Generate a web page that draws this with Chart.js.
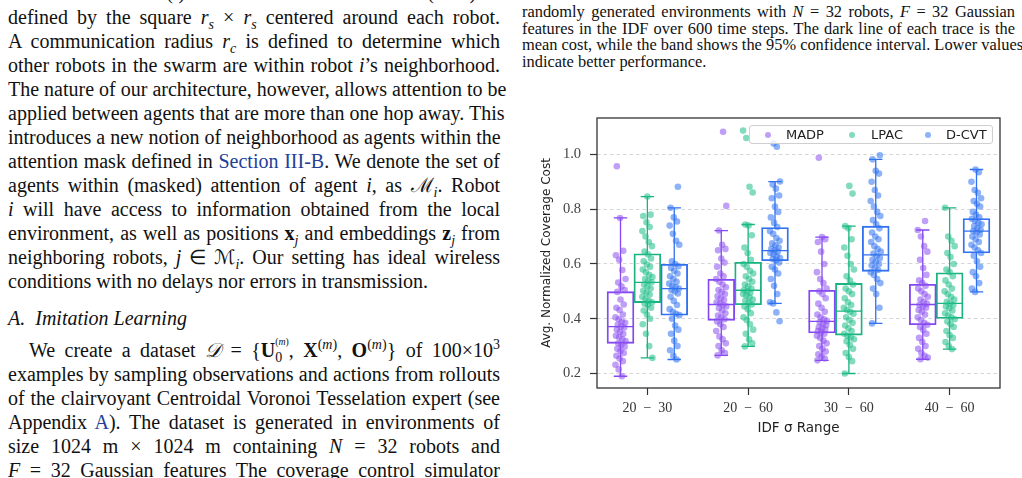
<!DOCTYPE html>
<html>
<head>
<meta charset="utf-8">
<script src="https://cdn.jsdelivr.net/npm/chart.js@4.4.1/dist/chart.umd.min.js"></script>
<style>
  html, body { margin: 0; padding: 0; background: #fff; }
  body { width: 1022px; height: 478px; position: relative; overflow: hidden; font-family: "Liberation Serif", serif; color: #111; }
  .ln { position: absolute; white-space: nowrap; text-align: justify; text-align-last: justify; }
  .left { left: 8px; width: 492px; font-size: 20px; line-height: 24px; height: 24px; }
  .cap { left: 522px; width: 493px; font-size: 16.4px; line-height: 17px; height: 17px; }
  .last { text-align-last: left; }
  .ln i, .mi { font-style: italic; }
  .ln sub, .ln sup { font-size: 70%; line-height: 0; }
  .lk { color: #233f96; }
  .ss { display: inline-block; vertical-align: -0.35em; line-height: 0.8; font-size: 70%; text-align: left; text-align-last: left; }
  #wrap { position: absolute; left: 515px; top: 95px; width: 500px; height: 355px; }
  #legend { position: absolute; left: 749px; top: 125px; width: 242px; height: 17px; border: 1px solid #cfcfcf; border-radius: 3px; background: rgba(255,255,255,0.8); font-family: "DejaVu Sans", sans-serif; font-size: 13px; color: #222; }
  #legend .dot { position: absolute; top: 6px; width: 6px; height: 6px; border-radius: 50%; }
  #legend .lab { position: absolute; top: 0px; line-height: 17px; }
</style>
</head>
<body>

<div class="ln left" style="top:-20px">of other robots <i>𝒩</i>(<i>i</i>). The sensor field of view (FoV) is</div>
<div class="ln left" style="top:5px">defined by the square <i>r<sub>s</sub></i> × <i>r<sub>s</sub></i> centered around each robot.</div>
<div class="ln left" style="top:29px">A communication radius <i>r<sub>c</sub></i> is defined to determine which</div>
<div class="ln left" style="top:53px">other robots in the swarm are within robot <i>i</i>’s neighborhood.</div>
<div class="ln left" style="top:77px">The nature of our architecture, however, allows attention to be</div>
<div class="ln left" style="top:101px">applied between agents that are more than one hop away. This</div>
<div class="ln left" style="top:125px">introduces a new notion of neighborhood as agents within the</div>
<div class="ln left" style="top:149px">attention mask defined in <span class="lk">Section III-B</span>. We denote the set of</div>
<div class="ln left" style="top:173px">agents within (masked) attention of agent <i>i</i>, as ℳ<sub><i>i</i></sub>. Robot</div>
<div class="ln left" style="top:197px"><i>i</i> will have access to information obtained from the local</div>
<div class="ln left" style="top:221px">environment, as well as positions <b>x</b><sub><i>j</i></sub> and embeddings <b>z</b><sub><i>j</i></sub> from</div>
<div class="ln left" style="top:245px">neighboring robots, <i>j</i> ∈ ℳ<sub><i>i</i></sub>. Our setting has ideal wireless</div>
<div class="ln left last" style="top:269px">conditions with no delays nor errors in transmission.</div>
<div class="ln left last" style="top:306px"><i>A.&nbsp; Imitation Learning</i></div>
<div class="ln left" style="top:338px; left:29px; width:471px">We create a dataset <i>𝒟</i> = {<b>U</b><span class="ss"><sup>(<i>m</i>)</sup><br>0</span>, <b>X</b><sup>(<i>m</i>)</sup>, <b>O</b><sup>(<i>m</i>)</sup>} of 100×10<sup>3</sup></div>
<div class="ln left" style="top:362px">examples by sampling observations and actions from rollouts</div>
<div class="ln left" style="top:386px">of the clairvoyant Centroidal Voronoi Tesselation expert (see</div>
<div class="ln left" style="top:410px">Appendix <span class="lk">A</span>). The dataset is generated in environments of</div>
<div class="ln left" style="top:434px">size 1024 m × 1024 m containing <i>N</i> = 32 robots and</div>
<div class="ln left" style="top:458px"><i>F</i> = 32 Gaussian features The coverage control simulator</div>

<div class="ln cap" style="top:3px">randomly generated environments with <i>N</i> = 32 robots, <i>F</i> = 32 Gaussian</div>
<div class="ln cap" style="top:20px">features in the IDF over 600 time steps. The dark line of each trace is the</div>
<div class="ln cap" style="top:36px">mean cost, while the band shows the 95% confidence interval. Lower values</div>
<div class="ln cap last" style="top:53px">indicate better performance.</div>

<div id="wrap"><canvas id="cost"></canvas></div>
<div id="legend"></div>

<script>
var categories = ['20\u2002\u2212\u200230', '20\u2002\u2212\u200260', '30\u2002\u2212\u200260', '40\u2002\u2212\u200260'];
var seriesNames = ['MADP', 'LPAC', 'D-CVT'];
var yTicks = [0.2, 0.4, 0.6, 0.8, 1.0];

// box statistics, one per category
var madpQ1  = [0.310, 0.394, 0.348, 0.378];
var madpMed = [0.371, 0.452, 0.390, 0.452];
var madpQ3  = [0.499, 0.544, 0.504, 0.526];
var madpLo  = [0.190, 0.266, 0.248, 0.252];
var madpHi  = [0.768, 0.722, 0.698, 0.724];

var lpacQ1  = [0.459, 0.451, 0.340, 0.401];
var lpacMed = [0.533, 0.504, 0.428, 0.456];
var lpacQ3  = [0.637, 0.606, 0.529, 0.568];
var lpacLo  = [0.257, 0.299, 0.200, 0.289];
var lpacHi  = [0.846, 0.744, 0.738, 0.805];

var dcvtQ1  = [0.413, 0.612, 0.573, 0.640];
var dcvtMed = [0.510, 0.649, 0.633, 0.720];
var dcvtQ3  = [0.599, 0.733, 0.738, 0.766];
var dcvtLo  = [0.251, 0.456, 0.383, 0.498];
var dcvtHi  = [0.805, 0.901, 0.982, 0.945];

// individual environment costs (strip points)
var madpPoints = [
  [0.957, 0.768, 0.648, 0.632, 0.615, 0.578, 0.545, 0.532, 0.518, 0.505, 0.498, 0.47, 0.452, 0.44, 0.432, 0.415, 0.405, 0.398, 0.39, 0.385, 0.378, 0.372, 0.368, 0.36, 0.352, 0.345, 0.338, 0.332, 0.325, 0.318, 0.31, 0.305, 0.298, 0.29, 0.282, 0.275, 0.265, 0.255, 0.245, 0.232, 0.215, 0.19],
  [1.083, 0.812, 0.722, 0.67, 0.655, 0.65, 0.62, 0.605, 0.59, 0.565, 0.555, 0.545, 0.535, 0.525, 0.515, 0.505, 0.498, 0.49, 0.482, 0.475, 0.468, 0.46, 0.455, 0.45, 0.445, 0.438, 0.43, 0.42, 0.412, 0.405, 0.398, 0.39, 0.38, 0.37, 0.355, 0.335, 0.325, 0.31, 0.3, 0.285, 0.275, 0.266],
  [0.988, 0.698, 0.69, 0.68, 0.645, 0.6, 0.57, 0.545, 0.53, 0.51, 0.5, 0.49, 0.475, 0.455, 0.44, 0.425, 0.415, 0.405, 0.398, 0.392, 0.388, 0.382, 0.376, 0.37, 0.365, 0.36, 0.355, 0.35, 0.345, 0.338, 0.33, 0.32, 0.31, 0.3, 0.29, 0.28, 0.27, 0.262, 0.255, 0.248],
  [0.757, 0.724, 0.7, 0.665, 0.645, 0.615, 0.585, 0.56, 0.54, 0.53, 0.52, 0.51, 0.5, 0.49, 0.48, 0.47, 0.462, 0.455, 0.45, 0.445, 0.44, 0.432, 0.425, 0.415, 0.405, 0.395, 0.385, 0.378, 0.37, 0.36, 0.345, 0.33, 0.315, 0.3, 0.29, 0.275, 0.265, 0.258, 0.252]
];
var lpacPoints = [
  [0.846, 0.78, 0.775, 0.752, 0.735, 0.72, 0.7, 0.68, 0.665, 0.645, 0.635, 0.62, 0.61, 0.598, 0.59, 0.58, 0.57, 0.56, 0.552, 0.545, 0.538, 0.533, 0.525, 0.518, 0.51, 0.502, 0.495, 0.488, 0.48, 0.472, 0.465, 0.46, 0.455, 0.45, 0.44, 0.43, 0.415, 0.4, 0.38, 0.345, 0.3, 0.257],
  [1.087, 1.06, 0.882, 0.861, 0.744, 0.74, 0.705, 0.66, 0.64, 0.615, 0.6, 0.59, 0.575, 0.565, 0.555, 0.545, 0.535, 0.525, 0.518, 0.51, 0.505, 0.5, 0.495, 0.49, 0.485, 0.478, 0.47, 0.465, 0.458, 0.452, 0.445, 0.435, 0.42, 0.405, 0.395, 0.38, 0.36, 0.345, 0.325, 0.31, 0.299],
  [0.885, 0.857, 0.738, 0.73, 0.69, 0.66, 0.63, 0.6, 0.58, 0.555, 0.54, 0.525, 0.51, 0.5, 0.49, 0.475, 0.46, 0.45, 0.44, 0.432, 0.425, 0.418, 0.405, 0.395, 0.385, 0.375, 0.365, 0.355, 0.345, 0.338, 0.332, 0.325, 0.318, 0.305, 0.29, 0.275, 0.26, 0.245, 0.2],
  [0.805, 0.7, 0.685, 0.665, 0.64, 0.625, 0.6, 0.58, 0.57, 0.555, 0.54, 0.525, 0.51, 0.5, 0.49, 0.48, 0.47, 0.462, 0.456, 0.45, 0.445, 0.438, 0.43, 0.42, 0.412, 0.405, 0.398, 0.39, 0.38, 0.37, 0.355, 0.34, 0.33, 0.315, 0.3, 0.289]
];
var dcvtPoints = [
  [0.882, 0.805, 0.77, 0.755, 0.74, 0.71, 0.685, 0.67, 0.61, 0.6, 0.592, 0.585, 0.575, 0.565, 0.555, 0.545, 0.535, 0.528, 0.52, 0.515, 0.51, 0.505, 0.5, 0.492, 0.48, 0.465, 0.45, 0.435, 0.425, 0.418, 0.413, 0.4, 0.375, 0.36, 0.345, 0.32, 0.3, 0.285, 0.265, 0.251],
  [1.04, 1.028, 0.901, 0.89, 0.875, 0.85, 0.84, 0.81, 0.79, 0.77, 0.75, 0.735, 0.72, 0.71, 0.695, 0.685, 0.675, 0.668, 0.66, 0.655, 0.65, 0.645, 0.64, 0.635, 0.628, 0.622, 0.618, 0.613, 0.605, 0.59, 0.58, 0.565, 0.545, 0.52, 0.49, 0.46, 0.456, 0.423, 0.391],
  [0.997, 0.982, 0.94, 0.93, 0.9, 0.87, 0.85, 0.83, 0.81, 0.79, 0.775, 0.76, 0.745, 0.73, 0.715, 0.7, 0.69, 0.68, 0.665, 0.655, 0.645, 0.638, 0.63, 0.622, 0.615, 0.608, 0.6, 0.595, 0.585, 0.578, 0.57, 0.56, 0.545, 0.53, 0.51, 0.49, 0.44, 0.383],
  [0.945, 0.935, 0.9, 0.87, 0.86, 0.84, 0.83, 0.82, 0.81, 0.79, 0.78, 0.77, 0.765, 0.758, 0.75, 0.745, 0.738, 0.73, 0.725, 0.72, 0.715, 0.708, 0.7, 0.69, 0.68, 0.67, 0.66, 0.65, 0.64, 0.63, 0.61, 0.59, 0.57, 0.555, 0.53, 0.51, 0.498]
];

var lineColors = ['#8447f2', '#1ab37f', '#3271f0'];
var dotColors = ['rgba(140, 80, 240, 0.55)', 'rgba(30, 190, 135, 0.55)', 'rgba(50, 115, 240, 0.55)'];

var stats = [
  {q1: madpQ1, med: madpMed, q3: madpQ3, lo: madpLo, hi: madpHi, pts: madpPoints},
  {q1: lpacQ1, med: lpacMed, q3: lpacQ3, lo: lpacLo, hi: lpacHi, pts: lpacPoints},
  {q1: dcvtQ1, med: dcvtMed, q3: dcvtQ3, lo: dcvtLo, hi: dcvtHi, pts: dcvtPoints}
];

// each hue is dodged by a third of 0.8 category widths, like seaborn
function dodge(j) {
  return (j - 1) * 0.8 / 3;
}
// small deterministic horizontal spread for the strip points
function jit(k) {
  return (((k * 7 + 3) % 23) / 22 - 0.5) * 0.1;
}

var datasets = [];
stats.forEach(function(s, j) {
  datasets.push({
    type: 'bar',
    label: seriesNames[j],
    data: categories.map(function(c, i) { return {x: i + dodge(j), y: [s.q1[i], s.q3[i]]}; }),
    xAxisID: 'x2',
    grouped: false,
    backgroundColor: 'rgba(0,0,0,0)',
    borderColor: lineColors[j],
    borderWidth: 1.2,
    borderSkipped: false,
    categoryPercentage: 1,
    barPercentage: 1,
    order: 2
  });
});
stats.forEach(function(s, j) {
  var pts = [];
  s.pts.forEach(function(vals, i) {
    vals.forEach(function(v, k) {
      pts.push({x: i + dodge(j) + jit(k + 5 * i + 11 * j), y: v});
    });
  });
  datasets.push({
    type: 'scatter',
    label: seriesNames[j] + ' pts',
    data: pts,
    xAxisID: 'x2',
    backgroundColor: dotColors[j],
    borderWidth: 0,
    pointRadius: 3.3,
    order: 1
  });
});

var whiskers = {
  id: 'whiskers',
  beforeDatasetsDraw: function(chart) {
    var ctx = chart.ctx, y = chart.scales.y;
    stats.forEach(function(s, j) {
      var meta = chart.getDatasetMeta(j);
      meta.data.forEach(function(bar, i) {
        var half = bar.width / 2, cap = bar.width / 4;
        ctx.save();
        ctx.strokeStyle = lineColors[j];
        ctx.lineWidth = 1.3;
        ctx.beginPath();
        ctx.moveTo(bar.x - half, y.getPixelForValue(s.med[i]));
        ctx.lineTo(bar.x + half, y.getPixelForValue(s.med[i]));
        ctx.moveTo(bar.x, y.getPixelForValue(s.q3[i]));
        ctx.lineTo(bar.x, y.getPixelForValue(s.hi[i]));
        ctx.moveTo(bar.x, y.getPixelForValue(s.q1[i]));
        ctx.lineTo(bar.x, y.getPixelForValue(s.lo[i]));
        ctx.moveTo(bar.x - cap, y.getPixelForValue(s.hi[i]));
        ctx.lineTo(bar.x + cap, y.getPixelForValue(s.hi[i]));
        ctx.moveTo(bar.x - cap, y.getPixelForValue(s.lo[i]));
        ctx.lineTo(bar.x + cap, y.getPixelForValue(s.lo[i]));
        ctx.stroke();
        ctx.restore();
      });
    });
  },
  afterDraw: function(chart) {
    var a = chart.chartArea, ctx = chart.ctx;
    ctx.save();
    ctx.strokeStyle = '#333';
    ctx.lineWidth = 1.3;
    ctx.strokeRect(a.left, a.top, a.right - a.left, a.bottom - a.top);
    ctx.restore();
  }
};

new Chart(document.getElementById('cost'), {
  type: 'bar',
  data: { labels: categories, datasets: datasets },
  options: {
    responsive: true,
    maintainAspectRatio: false,
    animation: false,
    layout: { padding: { left: 0, right: 15, top: 23, bottom: 0 } },
    plugins: { legend: { display: false }, tooltip: { enabled: false } },
    scales: {
      x: {
        type: 'category',
        offset: true,
        afterFit: function(scale) { scale.height = 62; },
        grid: { offset: false, drawOnChartArea: false, drawTicks: true, tickLength: 7, tickColor: '#333', tickWidth: 1.2 },
        border: { display: false },
        ticks: { padding: 5, color: '#333', font: { family: 'Liberation Serif', size: 14 } },
        title: { display: true, text: 'IDF σ Range', color: '#222', padding: { top: 0, bottom: 13 }, font: { family: 'DejaVu Sans', size: 13.5 } }
      },
      x2: { type: 'linear', display: false, offset: false, min: -0.5, max: 3.5, ticks: { stepSize: 1 }, grid: { offset: false } },
      y: {
        min: 0.147,
        max: 1.133,
        afterFit: function(scale) { scale.width = 82; },
        afterBuildTicks: function(axis) { axis.ticks = yTicks.map(function(v) { return {value: v}; }); },
        grid: { color: '#cccccc', lineWidth: 0.8, tickLength: 7, tickColor: '#333', tickWidth: 1.2 },
        border: { display: false, dash: [3.5, 3] },
        ticks: { padding: 9, color: '#444', font: { family: 'Liberation Serif', size: 14.5 }, callback: function(v) { return Number(v).toFixed(1); } },
        title: { display: true, text: 'Avg. Normalized Coverage Cost', color: '#222', padding: { top: 25, bottom: 0 }, font: { family: 'DejaVu Sans', size: 12 } }
      }
    }
  },
  plugins: [whiskers]
});

// legend box in the upper right of the plot
var legend = document.getElementById('legend');
var dotX = [15, 99, 175];
var labX = [36, 121, 196];
seriesNames.forEach(function(name, j) {
  var d = document.createElement('span');
  d.className = 'dot';
  d.style.left = dotX[j] + 'px';
  d.style.background = dotColors[j];
  legend.appendChild(d);
  var t = document.createElement('span');
  t.className = 'lab';
  t.style.left = labX[j] + 'px';
  t.textContent = name;
  legend.appendChild(t);
});
</script>
</body>
</html>
